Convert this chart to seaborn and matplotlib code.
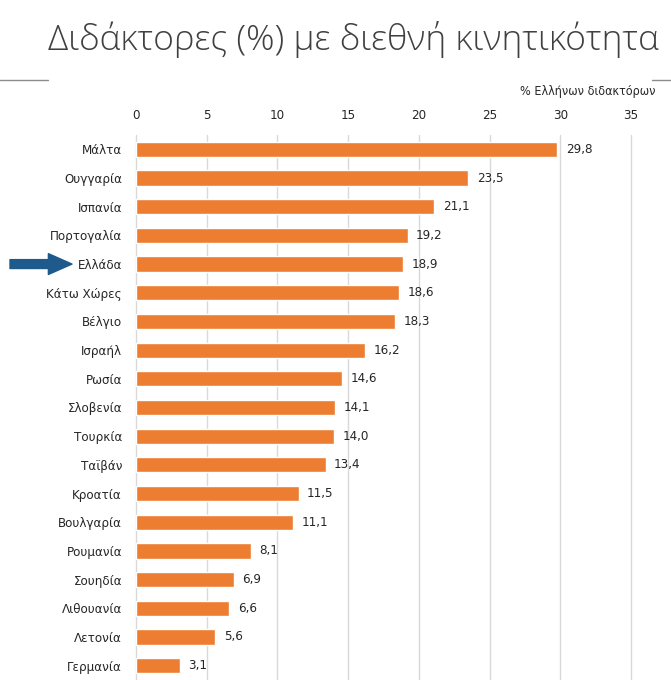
import matplotlib
matplotlib.use('Agg')
import matplotlib.pyplot as plt
import seaborn as sns
import pandas as pd
from matplotlib.lines import Line2D

# Data
countries = ['Μάλτα', 'Ουγγαρία', 'Ισπανία', 'Πορτογαλία', 'Ελλάδα', 'Κάτω Χώρες',
             'Βέλγιο', 'Ισραήλ', 'Ρωσία', 'Σλοβενία', 'Τουρκία', 'Ταϊβάν', 'Κροατία',
             'Βουλγαρία', 'Ρουμανία', 'Σουηδία', 'Λιθουανία', 'Λετονία', 'Γερμανία']
values = [29.8, 23.5, 21.1, 19.2, 18.9, 18.6, 18.3, 16.2, 14.6, 14.1, 14.0, 13.4,
          11.5, 11.1, 8.1, 6.9, 6.6, 5.6, 3.1]
x_ticks = [0, 5, 10, 15, 20, 25, 30, 35]
highlight = 'Ελλάδα'

df = pd.DataFrame({'country': countries, 'value': values})

sns.set_style('white')
plt.rcParams['font.family'] = ['DejaVu Sans']
plt.rcParams['font.stretch'] = 'condensed'

fig = plt.figure(figsize=(6.71, 6.80), dpi=100)
ax = fig.add_axes([0.2027, 0.0, 0.7377, 0.8015])

sns.barplot(data=df, x='value', y='country', color='#ed7d31', saturation=1,
            width=0.53, ax=ax, zorder=3)

ax.set_xlim(0, 35)
ax.set_ylim(len(countries) - 0.5, -0.5)
ax.set_xticks(x_ticks)
ax.xaxis.tick_top()
ax.tick_params(axis='x', length=0, labelsize=9.5, pad=9, colors='#262626')
ax.tick_params(axis='y', length=0, labelsize=9.5, pad=10, colors='#262626')
ax.set_xlabel('')
ax.set_ylabel('')
ax.grid(axis='x', color='#d9d9d9', linewidth=1, zorder=0)
for gl in ax.get_xgridlines():
    gl.set_clip_on(False)
for s in ax.spines.values():
    s.set_visible(False)

# value labels with comma decimals
for i, v in enumerate(values):
    ax.text(v + 0.6, i, f'{v:.1f}'.replace('.', ','), va='center', ha='left',
            fontsize=9.5, color='#262626')

# axis caption
fig.text(655 / 671, 1 - 92 / 680, '% Ελλήνων διδακτόρων', ha='right', va='center',
         fontsize=9, color='#262626')

# title
fig.text(48 / 671, 1 - 40 / 680, 'Διδάκτορες (%) με διεθνή κινητικότητα',
         ha='left', va='center', fontsize=25.5, color='#404040',
         family=['Open Sans', 'DejaVu Sans'], fontweight='light', fontstretch='normal')

# decorative rules
fig.add_artist(Line2D([0, 48 / 671], [1 - 80 / 680] * 2, color='#8c8c8c', lw=1))
fig.add_artist(Line2D([652 / 671, 1], [1 - 80 / 680] * 2, color='#8c8c8c', lw=1))

# arrow pointing at Greece
gi = countries.index(highlight)
ax.annotate('', xy=(72 / 671, gi), xytext=(10 / 671, gi),
            xycoords=('figure fraction', 'data'),
            textcoords=('figure fraction', 'data'),
            arrowprops=dict(arrowstyle='simple,head_length=0.85,head_width=0.75,tail_width=0.32',
                            color='#1f5a8c', mutation_scale=20, shrinkA=0, shrinkB=0),
            annotation_clip=False)

fig.savefig('out.png', dpi=100)
